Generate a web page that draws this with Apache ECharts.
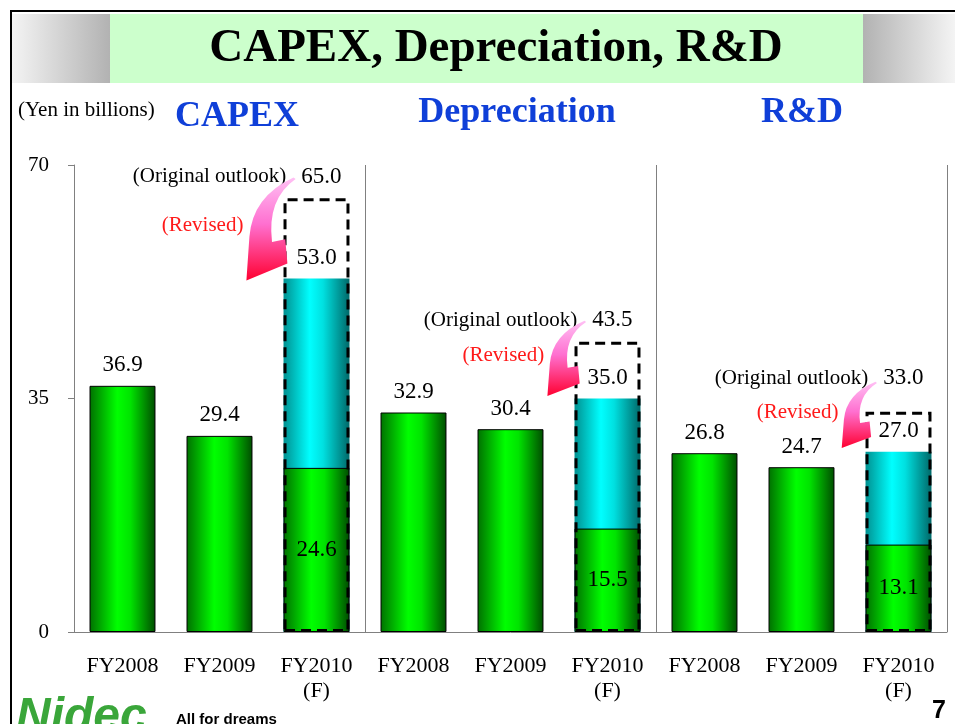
<!DOCTYPE html>
<html>
<head>
<meta charset="utf-8">
<title>CAPEX, Depreciation, R&amp;D</title>
<script src="https://cdn.jsdelivr.net/npm/echarts@6/dist/echarts.min.js"></script>
<style>
  html, body { margin: 0; padding: 0; background: #fff; }
  #chart { width: 955px; height: 724px; }
</style>
</head>
<body>
<div id="chart"></div>
<script>
// 数据
const segments = ['CAPEX', 'Depreciation', 'R&D'];
const years = ['FY2008', 'FY2009', 'FY2010\n(F)'];
const actualValues = [36.9, 29.4, 24.6, 32.9, 30.4, 15.5, 26.8, 24.7, 13.1];
const revisedValues = [null, null, 53.0, null, null, 35.0, null, null, 27.0];
const originalValues = [null, null, 65.0, null, null, 43.5, null, null, 33.0];
const yTicks = [0, 35, 70];

const SERIF = '"Liberation Serif", "Times New Roman", serif';
const BAR_W = 0.68;
const LAST = originalValues.length - 1;   // R&D 的期初标签位置略高

const categories = [];
segments.forEach(() => years.forEach(y => categories.push(y)));

const chart = echarts.init(document.getElementById('chart'));

// 柱子渐变
const greenFill = new echarts.graphic.LinearGradient(0, 0, 1, 0, [
  {offset: 0, color: '#007000'},
  {offset: 0.42, color: '#00ff00'},
  {offset: 0.62, color: '#00e400'},
  {offset: 1, color: '#004c00'}
]);
const cyanFill = new echarts.graphic.LinearGradient(0, 0, 1, 0, [
  {offset: 0, color: '#009090'},
  {offset: 0.4, color: '#00ffff'},
  {offset: 0.6, color: '#00e0e0'},
  {offset: 1, color: '#006868'}
]);
const arrowFill = new echarts.graphic.LinearGradient(0, 0, 0, 1, [
  {offset: 0, color: '#ffc0f4'},
  {offset: 0.45, color: '#ff70d0'},
  {offset: 1, color: '#ff0030'}
]);

// 弯箭头（相对尾点，宽度按 45 归一）
function arrowPath(tx, ty, h, w) {
  const k = w / 45;
  const p = (dx, fy) => (tx + dx * k).toFixed(1) + ' ' + (ty + fy * h).toFixed(1);
  return 'M' + p(0, 0) +
    ' Q' + p(-40, 0.22) + ' ' + p(-43, 0.69) +
    ' L' + p(-46, 1.2) +
    ' L' + p(-6, 1.0) +
    ' L' + p(-8, 0.72) +
    ' L' + p(-21, 0.75) +
    ' Q' + p(-26, 0.25) + ' ' + p(2, 0.02) + ' Z';
}

const arrowData = [];
originalValues.forEach((v, i) => {
  if (v != null) arrowData.push([i, v, revisedValues[i]]);
});

const valueLabel = {
  show: true,
  position: 'top',
  distance: 9,
  color: '#000',
  fontFamily: SERIF,
  fontSize: 23,
  formatter: p => (p.value == null ? '' : Number(p.value).toFixed(1))
};

const option = {
  animation: false,
  backgroundColor: '#fff',
  grid: {left: 74, right: 8, top: 165, bottom: 92, containLabel: false},
  xAxis: {
    type: 'category',
    data: categories,
    axisLine: {show: true, lineStyle: {color: '#808080', width: 1}},
    axisTick: {show: false},
    axisLabel: {
      interval: 0, color: '#000', fontFamily: SERIF, fontSize: 22,
      lineHeight: 25, margin: 22, verticalAlign: 'top'
    },
    splitLine: {
      show: true,
      interval: idx => idx > 0 && idx % 3 === 0,
      lineStyle: {color: '#808080', width: 1}
    }
  },
  yAxis: {
    type: 'value',
    min: yTicks[0],
    max: yTicks[yTicks.length - 1],
    interval: yTicks[1] - yTicks[0],
    axisLine: {show: true, lineStyle: {color: '#808080', width: 1}},
    axisTick: {show: true, length: 6, lineStyle: {color: '#808080'}},
    axisLabel: {color: '#000', fontFamily: SERIF, fontSize: 21, margin: 25},
    splitLine: {show: false}
  },
  series: [
    {
      // 修正后预测
      name: 'Revised',
      type: 'bar',
      barWidth: (BAR_W * 100) + '%',
      barGap: '-100%',
      data: revisedValues,
      itemStyle: {color: cyanFill, borderWidth: 0},
      label: valueLabel,
      z: 2
    },
    {
      // 实绩 / 上半期
      name: 'Actual',
      type: 'bar',
      barWidth: (BAR_W * 100) + '%',
      barGap: '-100%',
      data: actualValues.map((v, i) => revisedValues[i] == null ? v
        : {value: v, label: {position: 'inside'}}),
      itemStyle: {color: greenFill, borderColor: '#000', borderWidth: 1},
      label: valueLabel,
      z: 3
    },
    {
      // 期初预测（虚线框）
      name: 'Original outlook',
      type: 'bar',
      barWidth: (BAR_W * 100) + '%',
      barGap: '-100%',
      data: originalValues.map((v, i) => i === LAST ? {value: v, label: {distance: 22}} : v),
      itemStyle: {
        color: 'rgba(0,0,0,0)', borderColor: '#000', borderWidth: 3,
        borderType: [10, 6]
      },
      label: {
        show: true,
        position: 'top',
        distance: 10,
        align: 'right',
        offset: [25, 0],
        formatter: p => p.value == null ? ''
          : '{a|(Original outlook)}{b|' + Number(p.value).toFixed(1) + '}',
        rich: {
          a: {fontFamily: SERIF, fontSize: 21, color: '#000'},
          b: {fontFamily: SERIF, fontSize: 23, color: '#000', padding: [0, 0, 0, 15]}
        }
      },
      z: 4
    },
    {
      // 箭头 + (Revised)
      type: 'custom',
      data: arrowData,
      z: 5,
      silent: true,
      renderItem: function (params, api) {
        const idx = api.value(0);
        const top0 = api.coord([idx, api.value(1)]);
        const top1 = api.coord([idx, api.value(2)]);
        const bw = api.size([1, 0])[0] * BAR_W;
        const left = top0[0] - bw / 2;
        const tx = left + 10;
        const ty = top0[1] - (idx === LAST ? 30 : 21);
        const h = (top1[1] - 15) - ty;
        const w = 10 + 0.42 * h;
        return {
          type: 'group',
          children: [
            {
              type: 'path',
              shape: {pathData: arrowPath(tx, ty, h, w)},
              style: {fill: arrowFill}
            },
            {
              type: 'text',
              style: {
                text: '(Revised)',
                x: tx - w - 4,
                y: ty + 0.56 * h,
                align: 'right',
                verticalAlign: 'middle',
                fill: '#ff1a1a',
                font: '21px ' + SERIF
              }
            }
          ]
        };
      }
    }
  ],
  graphic: [
    // 外框
    {type: 'line', shape: {x1: 10, y1: 11, x2: 955, y2: 11}, style: {stroke: '#000', lineWidth: 2}, z: 10},
    {type: 'line', shape: {x1: 11, y1: 10, x2: 11, y2: 724}, style: {stroke: '#000', lineWidth: 2}, z: 10},
    // 标题栏
    {
      type: 'rect', shape: {x: 12, y: 14, width: 98, height: 69},
      style: {fill: new echarts.graphic.LinearGradient(0, 0, 1, 0, [
        {offset: 0, color: '#f4f4f4'}, {offset: 1, color: '#b2b2b2'}])}
    },
    {type: 'rect', shape: {x: 110, y: 14, width: 753, height: 69}, style: {fill: '#ccffcc'}},
    {
      type: 'rect', shape: {x: 863, y: 14, width: 92, height: 69},
      style: {fill: new echarts.graphic.LinearGradient(0, 0, 1, 0, [
        {offset: 0, color: '#b2b2b2'}, {offset: 1, color: '#f4f4f4'}])}
    },
    {
      type: 'text', x: 496, y: 49,
      style: {text: 'CAPEX, Depreciation, R&D', fill: '#000', font: 'bold 47px ' + SERIF,
        align: 'center', verticalAlign: 'middle'}
    },
    // 单位与分组标题
    {
      type: 'text', x: 18, y: 110,
      style: {text: '(Yen in billions)', fill: '#000', font: '21px ' + SERIF, verticalAlign: 'middle'}
    },
    {
      type: 'text', x: 237, y: 117,
      style: {text: segments[0], fill: '#0f3fd8', font: 'bold 36px ' + SERIF, align: 'center', verticalAlign: 'middle'}
    },
    {
      type: 'text', x: 517, y: 113,
      style: {text: segments[1], fill: '#0f3fd8', font: 'bold 36px ' + SERIF, align: 'center', verticalAlign: 'middle'}
    },
    {
      type: 'text', x: 802, y: 113,
      style: {text: segments[2], fill: '#0f3fd8', font: 'bold 36px ' + SERIF, align: 'center', verticalAlign: 'middle'}
    },
    // 页脚 logo
    {
      type: 'text', x: 16, y: 694,
      style: {text: 'Nidec', fill: '#3aa63a', font: 'italic 900 48px "Liberation Sans", Arial, sans-serif'}
    },
    {
      type: 'text', x: 176, y: 712,
      style: {text: 'All for dreams', fill: '#000', font: 'bold 15px "Liberation Sans Narrow", "Liberation Sans", sans-serif'}
    },
    {
      type: 'text', x: 946, y: 711,
      style: {text: '7', fill: '#000', font: 'bold 25px "Liberation Sans", Arial, sans-serif', align: 'right', verticalAlign: 'middle'}
    }
  ]
};

chart.setOption(option);
window.addEventListener('resize', function () {
  chart.resize();
});
</script>
</body>
</html>
